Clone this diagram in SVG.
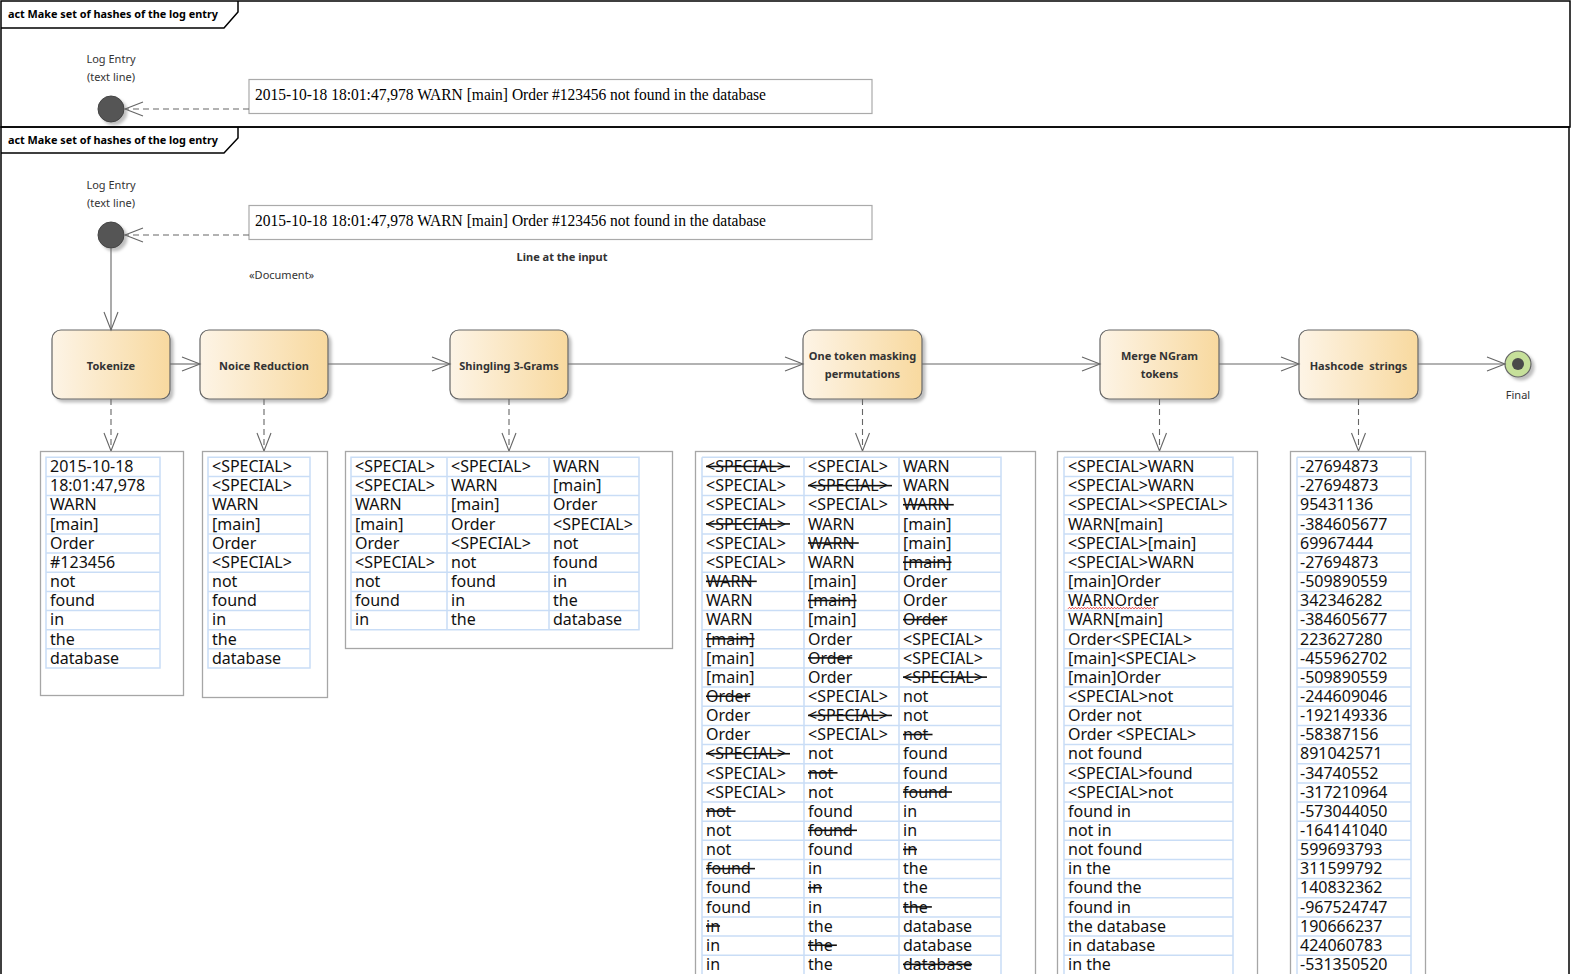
<svg xmlns="http://www.w3.org/2000/svg" width="1572" height="974" viewBox="0 0 1572 974">
<style>
.frame{fill:none;stroke:#000;stroke-width:1.5}
.flabel{font-family:"Noto Sans","Liberation Sans",sans-serif;font-size:11px;font-weight:bold;fill:#000}
.lbl{font-family:"Noto Sans","Liberation Sans",sans-serif;font-size:11px;fill:#333}
.blbl{font-family:"Noto Sans","Liberation Sans",sans-serif;font-size:11px;font-weight:bold;fill:#333}
.node{fill:url(#ng);stroke:#666;stroke-width:1.2;filter:url(#sh)}
.ntxt{font-family:"Noto Sans","Liberation Sans",sans-serif;font-size:11px;font-weight:bold;fill:#333;text-anchor:middle}
.serif{font-family:"Liberation Serif","Times New Roman",serif;font-size:16px;fill:#000}
.tbox{fill:#fff;stroke:#aaa;stroke-width:1.2}
.obox{fill:#fff;stroke:#a6a6a6;stroke-width:1.3}
.grid{fill:none;stroke:#c9ddf6;stroke-width:1.5}
.t{font-family:"Noto Sans","Open Sans","Liberation Sans",sans-serif;font-size:16px;fill:#111}
.s{text-decoration:line-through}
.conn{fill:none;stroke:#666;stroke-width:1.1}
.dash{stroke-dasharray:6 4}
</style>
<defs>
<linearGradient id="ng" x1="0" y1="0" x2="1" y2="0">
<stop offset="0" stop-color="#fdf4e6"/>
<stop offset="1" stop-color="#f8d99f"/>
</linearGradient>
<filter id="sh" x="-10%" y="-10%" width="130%" height="130%">
<feDropShadow dx="3" dy="3" stdDeviation="1.5" flood-color="#000" flood-opacity="0.25"/>
</filter>
<marker id="arr" viewBox="-19 -8 20 16" refX="0" refY="0" markerWidth="20" markerHeight="16" markerUnits="userSpaceOnUse" orient="auto" overflow="visible">
<path d="M-18,-7 L0,0 L-18,7" fill="none" stroke="#666" stroke-width="1.1"/>
</marker>
</defs>
<rect width="1572" height="974" fill="#fff"/>

<!-- Frame 1 -->
<g id="frame1">
<rect class="frame" x="1" y="1" width="1569" height="126"/>
<path class="frame" d="M1,28 H224 L238,12 V1"/>
<text class="flabel" x="8" y="18" textLength="210" lengthAdjust="spacingAndGlyphs">act Make set of hashes of the log entry</text>
</g>
<g id="initial1">
<circle cx="111" cy="109" r="13" fill="#555" stroke="#444" filter="url(#sh)"/>
<text class="lbl" x="111" y="63" text-anchor="middle">Log Entry</text>
<text class="lbl" x="111" y="81" text-anchor="middle">(text line)</text>
</g>
<g id="input1">
<rect class="tbox" x="249" y="79.5" width="623" height="34"/>
<text class="serif" x="255" y="99.5" textLength="511" lengthAdjust="spacingAndGlyphs">2015-10-18 18:01:47,978 WARN [main] Order #123456 not found in the database</text>
</g>

<!-- Frame 2 -->
<g id="frame2">
<rect class="frame" x="1" y="127" width="1568" height="900"/>
<path class="frame" d="M1,153 H224 L238,138 V127"/>
<text class="flabel" x="8" y="144" textLength="210" lengthAdjust="spacingAndGlyphs">act Make set of hashes of the log entry</text>
</g>
<g id="initial2">
<circle cx="111" cy="235" r="13" fill="#555" stroke="#444" filter="url(#sh)"/>
<text class="lbl" x="111" y="189" text-anchor="middle">Log Entry</text>
<text class="lbl" x="111" y="207" text-anchor="middle">(text line)</text>
</g>
<g id="input2">
<rect class="tbox" x="249" y="205.5" width="623" height="34"/>
<text class="serif" x="255" y="225.5" textLength="511" lengthAdjust="spacingAndGlyphs">2015-10-18 18:01:47,978 WARN [main] Order #123456 not found in the database</text>
<text class="blbl" x="562" y="261" text-anchor="middle">Line at the input</text>
<text class="lbl" x="249" y="279">«Document»</text>
</g>

<!-- Action nodes -->
<g id="tokenize">
<rect class="node" x="52" y="330" width="118" height="69" rx="9"/>
<text class="ntxt" x="111" y="370">Tokenize</text>
</g>
<g id="noise">
<rect class="node" x="200" y="330" width="128" height="69" rx="9"/>
<text class="ntxt" x="264" y="370">Noice Reduction</text>
</g>
<g id="shingling">
<rect class="node" x="450" y="330" width="118" height="69" rx="9"/>
<text class="ntxt" x="509" y="370">Shingling 3-Grams</text>
</g>
<g id="masking">
<rect class="node" x="803" y="330" width="119" height="69" rx="9"/>
<text class="ntxt" x="862.5" y="360">One token masking</text>
<text class="ntxt" x="862.5" y="378">permutations</text>
</g>
<g id="merge">
<rect class="node" x="1100" y="330" width="119" height="69" rx="9"/>
<text class="ntxt" x="1159.5" y="360">Merge NGram</text>
<text class="ntxt" x="1159.5" y="378">tokens</text>
</g>
<g id="hashcode">
<rect class="node" x="1299" y="330" width="119" height="69" rx="9"/>
<text class="ntxt" x="1358.5" y="370">Hashcode&#160;&#160;strings</text>
</g>
<g id="final">
<circle cx="1518" cy="364" r="13" fill="#c6e09a" stroke="#666" stroke-width="1.2" filter="url(#sh)"/>
<circle cx="1518" cy="364" r="6" fill="#4a4a4a"/>
<text class="lbl" x="1518" y="399" text-anchor="middle" fill="#445">Final</text>
</g>

<!-- Connectors -->
<g id="connectors">
<line class="conn dash" x1="249" y1="109" x2="125" y2="109" marker-end="url(#arr)"/>
<line class="conn dash" x1="249" y1="235" x2="125" y2="235" marker-end="url(#arr)"/>
<line class="conn" x1="111" y1="248" x2="111" y2="330" marker-end="url(#arr)"/>
<line class="conn" x1="170" y1="364" x2="200" y2="364" marker-end="url(#arr)"/>
<line class="conn" x1="328" y1="364" x2="450" y2="364" marker-end="url(#arr)"/>
<line class="conn" x1="568" y1="364" x2="803" y2="364" marker-end="url(#arr)"/>
<line class="conn" x1="922" y1="364" x2="1100" y2="364" marker-end="url(#arr)"/>
<line class="conn" x1="1219" y1="364" x2="1299" y2="364" marker-end="url(#arr)"/>
<line class="conn" x1="1418" y1="364" x2="1505" y2="364" marker-end="url(#arr)"/>
<line class="conn dash" x1="111" y1="399" x2="111" y2="451" marker-end="url(#arr)"/>
<line class="conn dash" x1="264" y1="399" x2="264" y2="451" marker-end="url(#arr)"/>
<line class="conn dash" x1="509" y1="399" x2="509" y2="451" marker-end="url(#arr)"/>
<line class="conn dash" x1="862.5" y1="399" x2="862.5" y2="451" marker-end="url(#arr)"/>
<line class="conn dash" x1="1159.5" y1="399" x2="1159.5" y2="451" marker-end="url(#arr)"/>
<line class="conn dash" x1="1358.5" y1="399" x2="1358.5" y2="451" marker-end="url(#arr)"/>
</g>

<!-- Table 1: tokens -->
<g id="tokens">
<rect class="obox" x="40.5" y="451.5" width="143" height="244"/>
<path class="grid" d="M46,457.3H160V668H46Z M46,476.5H160 M46,495.6H160 M46,514.8H160 M46,533.9H160 M46,553.1H160 M46,572.2H160 M46,591.4H160 M46,610.5H160 M46,629.7H160 M46,648.8H160"/>
<text class="t" x="50" y="472.1">2015-10-18</text>
<text class="t" x="50" y="491.3">18:01:47,978</text>
<text class="t" x="50" y="510.4">WARN</text>
<text class="t" x="50" y="529.6">[main]</text>
<text class="t" x="50" y="548.7">Order</text>
<text class="t" x="50" y="567.9">#123456</text>
<text class="t" x="50" y="587">not</text>
<text class="t" x="50" y="606.2">found</text>
<text class="t" x="50" y="625.3">in</text>
<text class="t" x="50" y="644.5">the</text>
<text class="t" x="50" y="663.6">database</text>
</g>

<!-- Table 2: noise reduced -->
<g id="reduced">
<rect class="obox" x="202.5" y="451.5" width="125" height="246"/>
<path class="grid" d="M208,457.3H310V668H208Z M208,476.5H310 M208,495.6H310 M208,514.8H310 M208,533.9H310 M208,553.1H310 M208,572.2H310 M208,591.4H310 M208,610.5H310 M208,629.7H310 M208,648.8H310"/>
<text class="t" x="212" y="472.1">&lt;SPECIAL&gt;</text>
<text class="t" x="212" y="491.3">&lt;SPECIAL&gt;</text>
<text class="t" x="212" y="510.4">WARN</text>
<text class="t" x="212" y="529.6">[main]</text>
<text class="t" x="212" y="548.7">Order</text>
<text class="t" x="212" y="567.9">&lt;SPECIAL&gt;</text>
<text class="t" x="212" y="587">not</text>
<text class="t" x="212" y="606.2">found</text>
<text class="t" x="212" y="625.3">in</text>
<text class="t" x="212" y="644.5">the</text>
<text class="t" x="212" y="663.6">database</text>
</g>

<!-- Table 3: shingles -->
<g id="shingles">
<rect class="obox" x="345.5" y="451.5" width="327" height="197"/>
<path class="grid" d="M351,457.3H639V629.7H351Z M447,457.3V629.7 M549,457.3V629.7 M351,476.5H639 M351,495.6H639 M351,514.8H639 M351,533.9H639 M351,553.1H639 M351,572.2H639 M351,591.4H639 M351,610.5H639"/>
<text class="t" x="355" y="472.1">&lt;SPECIAL&gt;</text><text class="t" x="451" y="472.1">&lt;SPECIAL&gt;</text><text class="t" x="553" y="472.1">WARN</text>
<text class="t" x="355" y="491.3">&lt;SPECIAL&gt;</text><text class="t" x="451" y="491.3">WARN</text><text class="t" x="553" y="491.3">[main]</text>
<text class="t" x="355" y="510.4">WARN</text><text class="t" x="451" y="510.4">[main]</text><text class="t" x="553" y="510.4">Order</text>
<text class="t" x="355" y="529.6">[main]</text><text class="t" x="451" y="529.6">Order</text><text class="t" x="553" y="529.6">&lt;SPECIAL&gt;</text>
<text class="t" x="355" y="548.7">Order</text><text class="t" x="451" y="548.7">&lt;SPECIAL&gt;</text><text class="t" x="553" y="548.7">not</text>
<text class="t" x="355" y="567.9">&lt;SPECIAL&gt;</text><text class="t" x="451" y="567.9">not</text><text class="t" x="553" y="567.9">found</text>
<text class="t" x="355" y="587">not</text><text class="t" x="451" y="587">found</text><text class="t" x="553" y="587">in</text>
<text class="t" x="355" y="606.2">found</text><text class="t" x="451" y="606.2">in</text><text class="t" x="553" y="606.2">the</text>
<text class="t" x="355" y="625.3">in</text><text class="t" x="451" y="625.3">the</text><text class="t" x="553" y="625.3">database</text>
</g>

<!-- Table 4: masking permutations -->
<g id="permutations">
<rect class="obox" x="695.5" y="451.5" width="340" height="560"/>
<path class="grid" d="M702,457.3H1001V990 M702,457.3V990 M804,457.3V990 M899,457.3V990 M702,476.5H1001 M702,495.6H1001 M702,514.8H1001 M702,533.9H1001 M702,553.1H1001 M702,572.2H1001 M702,591.4H1001 M702,610.5H1001 M702,629.7H1001 M702,648.8H1001 M702,668H1001 M702,687.1H1001 M702,706.3H1001 M702,725.4H1001 M702,744.6H1001 M702,763.7H1001 M702,782.9H1001 M702,802H1001 M702,821.2H1001 M702,840.3H1001 M702,859.5H1001 M702,878.6H1001 M702,897.8H1001 M702,916.9H1001 M702,936.1H1001 M702,955.2H1001"/>
<text class="t s" x="706" y="472.1">&lt;SPECIAL&gt;&#160;</text><text class="t" x="808" y="472.1">&lt;SPECIAL&gt;</text><text class="t" x="903" y="472.1">WARN</text>
<text class="t" x="706" y="491.3">&lt;SPECIAL&gt;</text><text class="t s" x="808" y="491.3">&lt;SPECIAL&gt;&#160;</text><text class="t" x="903" y="491.3">WARN</text>
<text class="t" x="706" y="510.4">&lt;SPECIAL&gt;</text><text class="t" x="808" y="510.4">&lt;SPECIAL&gt;</text><text class="t s" x="903" y="510.4">WARN&#160;</text>
<text class="t s" x="706" y="529.6">&lt;SPECIAL&gt;&#160;</text><text class="t" x="808" y="529.6">WARN</text><text class="t" x="903" y="529.6">[main]</text>
<text class="t" x="706" y="548.7">&lt;SPECIAL&gt;</text><text class="t s" x="808" y="548.7">WARN&#160;</text><text class="t" x="903" y="548.7">[main]</text>
<text class="t" x="706" y="567.9">&lt;SPECIAL&gt;</text><text class="t" x="808" y="567.9">WARN</text><text class="t s" x="903" y="567.9">[main]</text>
<text class="t s" x="706" y="587">WARN&#160;</text><text class="t" x="808" y="587">[main]</text><text class="t" x="903" y="587">Order</text>
<text class="t" x="706" y="606.2">WARN</text><text class="t s" x="808" y="606.2">[main]</text><text class="t" x="903" y="606.2">Order</text>
<text class="t" x="706" y="625.3">WARN</text><text class="t" x="808" y="625.3">[main]</text><text class="t s" x="903" y="625.3">Order</text>
<text class="t s" x="706" y="644.5">[main]</text><text class="t" x="808" y="644.5">Order</text><text class="t" x="903" y="644.5">&lt;SPECIAL&gt;</text>
<text class="t" x="706" y="663.6">[main]</text><text class="t s" x="808" y="663.6">Order</text><text class="t" x="903" y="663.6">&lt;SPECIAL&gt;</text>
<text class="t" x="706" y="682.8">[main]</text><text class="t" x="808" y="682.8">Order</text><text class="t s" x="903" y="682.8">&lt;SPECIAL&gt;&#160;</text>
<text class="t s" x="706" y="701.9">Order</text><text class="t" x="808" y="701.9">&lt;SPECIAL&gt;</text><text class="t" x="903" y="701.9">not</text>
<text class="t" x="706" y="721.1">Order</text><text class="t s" x="808" y="721.1">&lt;SPECIAL&gt;&#160;</text><text class="t" x="903" y="721.1">not</text>
<text class="t" x="706" y="740.2">Order</text><text class="t" x="808" y="740.2">&lt;SPECIAL&gt;</text><text class="t s" x="903" y="740.2">not&#160;</text>
<text class="t s" x="706" y="759.4">&lt;SPECIAL&gt;&#160;</text><text class="t" x="808" y="759.4">not</text><text class="t" x="903" y="759.4">found</text>
<text class="t" x="706" y="778.5">&lt;SPECIAL&gt;</text><text class="t s" x="808" y="778.5">not&#160;</text><text class="t" x="903" y="778.5">found</text>
<text class="t" x="706" y="797.7">&lt;SPECIAL&gt;</text><text class="t" x="808" y="797.7">not</text><text class="t s" x="903" y="797.7">found&#160;</text>
<text class="t s" x="706" y="816.8">not&#160;</text><text class="t" x="808" y="816.8">found</text><text class="t" x="903" y="816.8">in</text>
<text class="t" x="706" y="836">not</text><text class="t s" x="808" y="836">found&#160;</text><text class="t" x="903" y="836">in</text>
<text class="t" x="706" y="855.1">not</text><text class="t" x="808" y="855.1">found</text><text class="t s" x="903" y="855.1">in</text>
<text class="t s" x="706" y="874.3">found&#160;</text><text class="t" x="808" y="874.3">in</text><text class="t" x="903" y="874.3">the</text>
<text class="t" x="706" y="893.4">found</text><text class="t s" x="808" y="893.4">in</text><text class="t" x="903" y="893.4">the</text>
<text class="t" x="706" y="912.6">found</text><text class="t" x="808" y="912.6">in</text><text class="t s" x="903" y="912.6">the&#160;</text>
<text class="t s" x="706" y="931.7">in</text><text class="t" x="808" y="931.7">the</text><text class="t" x="903" y="931.7">database</text>
<text class="t" x="706" y="950.9">in</text><text class="t s" x="808" y="950.9">the&#160;</text><text class="t" x="903" y="950.9">database</text>
<text class="t" x="706" y="970">in</text><text class="t" x="808" y="970">the</text><text class="t s" x="903" y="970">database</text>
</g>

<!-- Table 5: merged ngrams -->
<g id="merged">
<rect class="obox" x="1057.5" y="451.5" width="200" height="560"/>
<path class="grid" d="M1064,457.3H1233V990 M1064,457.3V990 M1064,476.5H1233 M1064,495.6H1233 M1064,514.8H1233 M1064,533.9H1233 M1064,553.1H1233 M1064,572.2H1233 M1064,591.4H1233 M1064,610.5H1233 M1064,629.7H1233 M1064,648.8H1233 M1064,668H1233 M1064,687.1H1233 M1064,706.3H1233 M1064,725.4H1233 M1064,744.6H1233 M1064,763.7H1233 M1064,782.9H1233 M1064,802H1233 M1064,821.2H1233 M1064,840.3H1233 M1064,859.5H1233 M1064,878.6H1233 M1064,897.8H1233 M1064,916.9H1233 M1064,936.1H1233 M1064,955.2H1233"/>
<text class="t" x="1068" y="472.1">&lt;SPECIAL&gt;WARN</text>
<text class="t" x="1068" y="491.3">&lt;SPECIAL&gt;WARN</text>
<text class="t" x="1068" y="510.4">&lt;SPECIAL&gt;&lt;SPECIAL&gt;</text>
<text class="t" x="1068" y="529.6">WARN[main]</text>
<text class="t" x="1068" y="548.7">&lt;SPECIAL&gt;[main]</text>
<text class="t" x="1068" y="567.9">&lt;SPECIAL&gt;WARN</text>
<text class="t" x="1068" y="587">[main]Order</text>
<text class="t" x="1068" y="606.2">WARNOrder</text>
<path d="M1068,608.8 l1.5,-1.5 l1.5,1.5 l1.5,-1.5 l1.5,1.5 l1.5,-1.5 l1.5,1.5 l1.5,-1.5 l1.5,1.5 l1.5,-1.5 l1.5,1.5 l1.5,-1.5 l1.5,1.5 l1.5,-1.5 l1.5,1.5 l1.5,-1.5 l1.5,1.5 l1.5,-1.5 l1.5,1.5 l1.5,-1.5 l1.5,1.5 l1.5,-1.5 l1.5,1.5 l1.5,-1.5 l1.5,1.5 l1.5,-1.5 l1.5,1.5 l1.5,-1.5 l1.5,1.5 l1.5,-1.5 l1.5,1.5 l1.5,-1.5 l1.5,1.5 l1.5,-1.5 l1.5,1.5 l1.5,-1.5 l1.5,1.5 l1.5,-1.5 l1.5,1.5 l1.5,-1.5 l1.5,1.5 l1.5,-1.5 l1.5,1.5 l1.5,-1.5 l1.5,1.5 l1.5,-1.5 l1.5,1.5 l1.5,-1.5 l1.5,1.5 l1.5,-1.5 l1.5,1.5 l1.5,-1.5 l1.5,1.5 l1.5,-1.5 l1.5,1.5 l1.5,-1.5 l1.5,1.5 l1.5,-1.5 l1.5,1.5" fill="none" stroke="#e02020" stroke-width="0.9"/>
<text class="t" x="1068" y="625.3">WARN[main]</text>
<text class="t" x="1068" y="644.5">Order&lt;SPECIAL&gt;</text>
<text class="t" x="1068" y="663.6">[main]&lt;SPECIAL&gt;</text>
<text class="t" x="1068" y="682.8">[main]Order</text>
<text class="t" x="1068" y="701.9">&lt;SPECIAL&gt;not</text>
<text class="t" x="1068" y="721.1">Order not</text>
<text class="t" x="1068" y="740.2">Order &lt;SPECIAL&gt;</text>
<text class="t" x="1068" y="759.4">not found</text>
<text class="t" x="1068" y="778.5">&lt;SPECIAL&gt;found</text>
<text class="t" x="1068" y="797.7">&lt;SPECIAL&gt;not</text>
<text class="t" x="1068" y="816.8">found in</text>
<text class="t" x="1068" y="836">not in</text>
<text class="t" x="1068" y="855.1">not found</text>
<text class="t" x="1068" y="874.3">in the</text>
<text class="t" x="1068" y="893.4">found the</text>
<text class="t" x="1068" y="912.6">found in</text>
<text class="t" x="1068" y="931.7">the database</text>
<text class="t" x="1068" y="950.9">in database</text>
<text class="t" x="1068" y="970">in the</text>
</g>

<!-- Table 6: hashcodes -->
<g id="hashes">
<rect class="obox" x="1290.5" y="451.5" width="135" height="560"/>
<path class="grid" d="M1297,457.3H1411V990 M1297,457.3V990 M1297,476.5H1411 M1297,495.6H1411 M1297,514.8H1411 M1297,533.9H1411 M1297,553.1H1411 M1297,572.2H1411 M1297,591.4H1411 M1297,610.5H1411 M1297,629.7H1411 M1297,648.8H1411 M1297,668H1411 M1297,687.1H1411 M1297,706.3H1411 M1297,725.4H1411 M1297,744.6H1411 M1297,763.7H1411 M1297,782.9H1411 M1297,802H1411 M1297,821.2H1411 M1297,840.3H1411 M1297,859.5H1411 M1297,878.6H1411 M1297,897.8H1411 M1297,916.9H1411 M1297,936.1H1411 M1297,955.2H1411"/>
<text class="t" x="1300" y="472.1">-27694873</text>
<text class="t" x="1300" y="491.3">-27694873</text>
<text class="t" x="1300" y="510.4">95431136</text>
<text class="t" x="1300" y="529.6">-384605677</text>
<text class="t" x="1300" y="548.7">69967444</text>
<text class="t" x="1300" y="567.9">-27694873</text>
<text class="t" x="1300" y="587">-509890559</text>
<text class="t" x="1300" y="606.2">342346282</text>
<text class="t" x="1300" y="625.3">-384605677</text>
<text class="t" x="1300" y="644.5">223627280</text>
<text class="t" x="1300" y="663.6">-455962702</text>
<text class="t" x="1300" y="682.8">-509890559</text>
<text class="t" x="1300" y="701.9">-244609046</text>
<text class="t" x="1300" y="721.1">-192149336</text>
<text class="t" x="1300" y="740.2">-58387156</text>
<text class="t" x="1300" y="759.4">891042571</text>
<text class="t" x="1300" y="778.5">-34740552</text>
<text class="t" x="1300" y="797.7">-317210964</text>
<text class="t" x="1300" y="816.8">-573044050</text>
<text class="t" x="1300" y="836">-164141040</text>
<text class="t" x="1300" y="855.1">599693793</text>
<text class="t" x="1300" y="874.3">311599792</text>
<text class="t" x="1300" y="893.4">140832362</text>
<text class="t" x="1300" y="912.6">-967524747</text>
<text class="t" x="1300" y="931.7">190666237</text>
<text class="t" x="1300" y="950.9">424060783</text>
<text class="t" x="1300" y="970">-531350520</text>
</g>
</svg>
